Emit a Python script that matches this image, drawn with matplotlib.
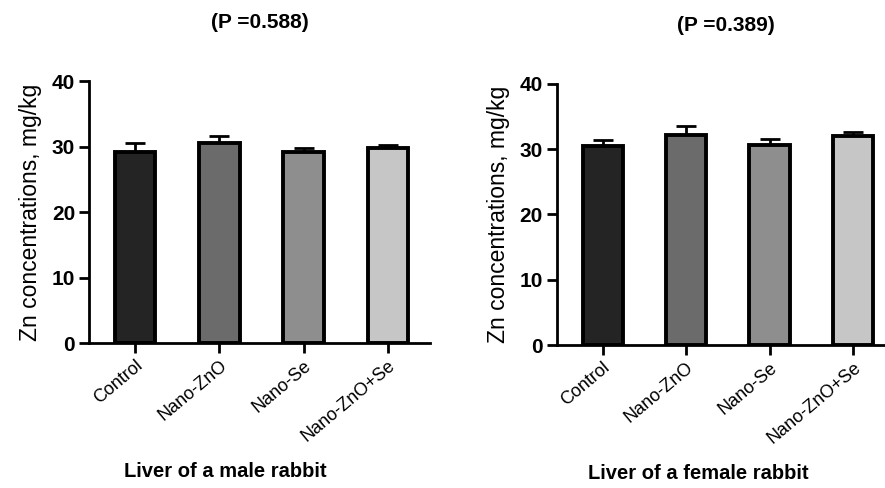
import matplotlib
matplotlib.use("Agg")
import matplotlib.pyplot as plt
import matplotlib.transforms as mtransforms

plt.rcParams["font.family"] = ["Liberation Sans", "DejaVu Sans"]

# Data
groups = ["Control", "Nano-ZnO", "Nano-Se", "Nano-ZnO+Se"]
male_mean = [29.1, 30.5, 29.1, 29.8]
male_err = [1.4, 1.1, 0.7, 0.5]
female_mean = [30.5, 32.2, 30.6, 32.0]
female_err = [0.9, 1.3, 0.9, 0.7]
bar_colors = ["#242424", "#6b6b6b", "#8e8e8e", "#c6c6c6"]
p_labels = ["(P =0.588)", "(P =0.389)"]
panel_labels = ["Liver of a male rabbit", "Liver of a female rabbit"]

LW = 2.0


def draw_panel(ax, means, errs, p_text, xlabel, xlabel_x):
    x = range(len(groups))
    ax.bar(x, means, width=0.48, color=bar_colors, edgecolor="black",
           linewidth=2.8, zorder=2)
    ax.errorbar(x, means, yerr=[[0] * len(errs), errs], fmt="none",
                ecolor="black", elinewidth=LW, capsize=7, capthick=LW, zorder=1)
    ax.set_ylim(0, 40)
    ax.set_xlim(-0.55, 3.5)
    ax.set_yticks([0, 10, 20, 30, 40])
    ax.set_xticks(list(x))
    ax.set_xticklabels(groups, rotation=40, ha="right", rotation_mode="anchor",
                       fontsize=13)
    shift = mtransforms.ScaledTranslation(14 / 100, -3 / 100, ax.figure.dpi_scale_trans)
    for lab in ax.get_xticklabels():
        lab.set_transform(lab.get_transform() + shift)
    for lab in ax.get_yticklabels():
        lab.set_fontsize(15)
        lab.set_fontweight("bold")
    ax.spines["top"].set_visible(False)
    ax.spines["right"].set_visible(False)
    ax.spines["left"].set_linewidth(LW)
    ax.spines["bottom"].set_linewidth(LW)
    ax.tick_params(axis="both", width=LW, length=7, pad=3)
    ax.set_ylabel("Zn concentrations, mg/kg", fontsize=16.5, labelpad=7)
    ax.set_title(p_text, fontsize=15, fontweight="bold", pad=38)
    ax.set_xlabel(xlabel, fontsize=14.5, fontweight="bold")
    ax.xaxis.set_label_coords(xlabel_x, -0.455)


fig = plt.figure(figsize=(8.85, 4.88), dpi=100)
ax1 = fig.add_axes([0.1006, 0.297, 0.385, 0.537])
ax2 = fig.add_axes([0.629, 0.293, 0.382, 0.535])

draw_panel(ax1, male_mean, male_err, p_labels[0], panel_labels[0], 0.40)
draw_panel(ax2, female_mean, female_err, p_labels[1], panel_labels[1], 0.42)

fig.savefig("out.png", dpi=100)
